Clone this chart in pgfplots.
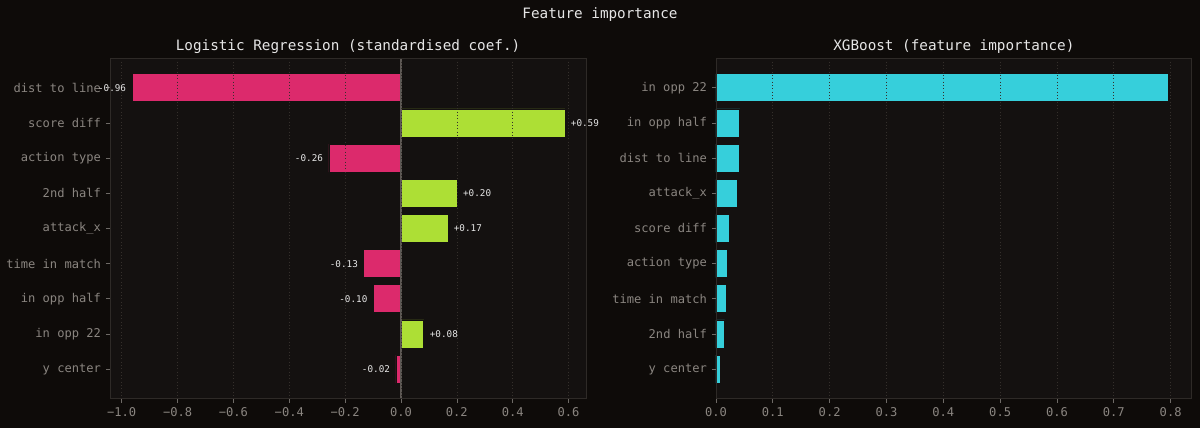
\documentclass[border=0pt]{standalone}
\usepackage{pgfplots}
\pgfplotsset{compat=1.18}
\usepackage{fontspec}
\setmainfont{DejaVu Sans Mono}
\definecolor{figbg}{HTML}{0E0B09}
\definecolor{axbg}{HTML}{141110}
\definecolor{pinkc}{HTML}{DC2A6C}
\definecolor{limec}{HTML}{ADDF35}
\definecolor{cyanc}{HTML}{36CFDB}
\definecolor{tickc}{HTML}{8A8580}
\definecolor{spinec}{HTML}{2E2A27}
\definecolor{gridc}{HTML}{35302C}
\definecolor{titlec}{HTML}{E6E6E6}
\definecolor{zeroc}{HTML}{5E5955}

\tikzset{valnode/.style={font=\fontsize{6.7}{8}\selectfont, text=titlec, inner sep=0pt}}
\pgfplotsset{
  fi/.style={
    scale only axis,
    height=245.1pt,
    xbar, bar width=0.8,
    ymin=-0.84, ymax=8.84, y dir=reverse,
    ytick={0,...,8},
    axis background/.style={fill=axbg},
    axis line style={spinec, line width=0.6pt},
    tick pos=left,
    tick align=outside,
    major tick length=3pt,
    tick style={color=tickc!80!black, line width=0.5pt},
    ticklabel style={text=tickc, font=\fontsize{8.7}{10}\selectfont},
    xmajorgrids,
    major grid style={gridc, dotted, line width=0.5pt},
    axis on top,
    anchor=south west,
  },
}

\begin{document}
\begin{tikzpicture}
\fill[figbg] (0pt,0pt) rectangle (864pt,308.16pt);
\node[text=titlec, font=\fontsize{10.3}{12}\selectfont] at (432pt,297.4pt) {Feature importance};
\node[text=titlec, font=\fontsize{10.3}{12}\selectfont] at (250.6pt,274.6pt) {Logistic Regression (standardised coef.)};
\node[text=titlec, font=\fontsize{10.3}{12}\selectfont] at (686.8pt,274.6pt) {XGBoost (feature importance)};

\begin{axis}[fi,
  at={(79.2pt,21.1pt)}, width=342.7pt,
  xmin=-1.0419, xmax=0.6623,
  xtick={-1,-0.8,-0.6,-0.4,-0.2,0,0.2,0.4,0.6},
  xticklabels={−1.0,−0.8,−0.6,−0.4,−0.2,0.0,0.2,0.4,0.6},
  yticklabels={dist to line,score diff,action type,2nd half,attack\_x,time in match,in opp half,in opp 22,y center},
]
\addplot[fill=pinkc, draw=axbg, line width=0.6pt, bar shift=0pt,
  nodes near coords, point meta=explicit symbolic,
  every node near coord/.append style={valnode, anchor=east, xshift=-4pt}]
  table[x=x, y=y, meta=lab] {
x y lab
-0.963 0 -0.96
-0.258 2 -0.26
-0.133 5 -0.13
-0.099 6 -0.10
-0.018 8 -0.02
};
\addplot[fill=limec, draw=axbg, line width=0.6pt, bar shift=0pt,
  nodes near coords, point meta=explicit symbolic,
  every node near coord/.append style={valnode, anchor=west, xshift=4pt}]
  table[x=x, y=y, meta=lab] {
x y lab
0.587 1 +0.59
0.201 3 +0.20
0.168 4 +0.17
0.082 7 +0.08
};
\draw[zeroc, line width=0.8pt] (axis cs:0,-0.84) -- (axis cs:0,8.84);
\end{axis}

\begin{axis}[fi,
  at={(515.5pt,21.1pt)}, width=342.5pt,
  xmin=0, xmax=0.837,
  xtick={0,0.1,0.2,0.3,0.4,0.5,0.6,0.7,0.8},
  xticklabels={0.0,0.1,0.2,0.3,0.4,0.5,0.6,0.7,0.8},
  yticklabels={in opp 22,in opp half,dist to line,attack\_x,score diff,action type,time in match,2nd half,y center},
]
\addplot[fill=cyanc, draw=axbg, line width=0.6pt, bar shift=0pt]
  table[x=x, y=y] {
x y
0.796 0
0.042 1
0.041 2
0.037 3
0.023 4
0.020 5
0.019 6
0.015 7
0.008 8
};
\end{axis}
\end{tikzpicture}
\end{document}
